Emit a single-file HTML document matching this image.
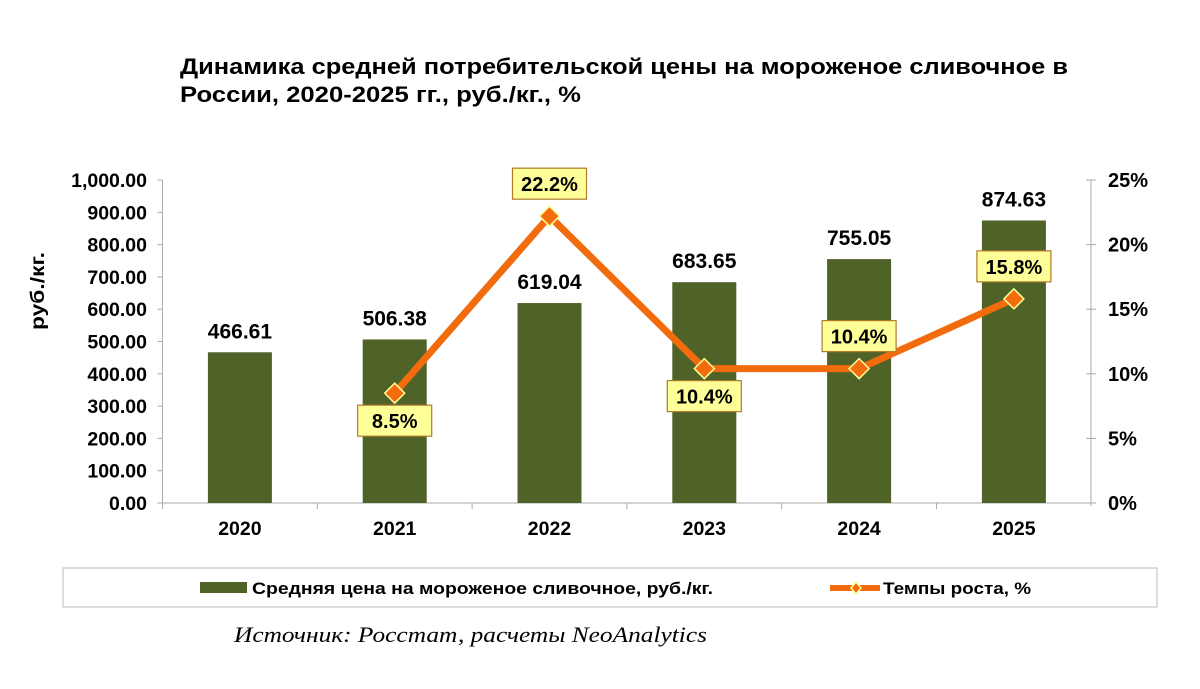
<!DOCTYPE html>
<html><head><meta charset="utf-8"><style>
body{margin:0;background:#fff;font-family:"Liberation Sans",Arial,sans-serif;}
</style></head><body>
<svg width="1200" height="684" viewBox="0 0 1200 684" xmlns="http://www.w3.org/2000/svg">
<text x="180" y="74" font-size="22" font-weight="bold" textLength="888" lengthAdjust="spacingAndGlyphs">Динамика средней потребительской цены на мороженое сливочное в</text>
<text x="180" y="102" font-size="22" font-weight="bold" textLength="401" lengthAdjust="spacingAndGlyphs">России, 2020-2025 гг., руб./кг., %</text>
<g id="axes"></g>
<g id="bars"></g>
<g id="line"></g>
<text transform="translate(44,291) rotate(-90)" text-anchor="middle" font-size="19" font-weight="bold" textLength="78" lengthAdjust="spacingAndGlyphs">руб./кг.</text>
<rect x="63" y="568" width="1094" height="39" fill="#fff" stroke="#bbb"/>
<rect x="200" y="582" width="47" height="11" fill="#4f6228"/>
<text x="252" y="594" font-size="17" font-weight="bold" textLength="461" lengthAdjust="spacingAndGlyphs">Средняя цена на мороженое сливочное, руб./кг.</text>
<line x1="830" y1="588" x2="880" y2="588" stroke="#f26c0d" stroke-width="6"/>
<path d="M856 582 L861 588 L856 594 L851 588Z" fill="#f26c0d" stroke="#ffff99" stroke-width="1.5"/>
<text x="883" y="594" font-size="17" font-weight="bold" textLength="148" lengthAdjust="spacingAndGlyphs">Темпы роста, %</text>
<text x="234" y="642" font-size="22" font-style="italic" font-family="Liberation Serif,serif" textLength="473" lengthAdjust="spacingAndGlyphs">Источник: Росстат, расчеты NeoAnalytics</text>
</svg>
<script>
const categories=["2020","2021","2022","2023","2024","2025"];
const prices=[466.61,506.38,619.04,683.65,755.05,874.63];
const priceLabels=["466.61","506.38","619.04","683.65","755.05","874.63"];
const growth=[null,8.5,22.2,10.4,10.4,15.8];
const growthLabels=["","8.5%","22.2%","10.4%","10.4%","15.8%"];
const leftTicks=["0.00","100.00","200.00","300.00","400.00","500.00","600.00","700.00","800.00","900.00","1,000.00"];
const rightTicks=["0%","5%","10%","15%","20%","25%"];
const labelBelow=[false,true,false,true,false,false];
const NS="http://www.w3.org/2000/svg";
const X0=162.5,BW=154.8,Y0=503,Y1=180,XR=1091;
const yL=v=>Y0-(Y0-Y1)*v/1000, yR=v=>Y0-(Y0-Y1)*v/25, xc=i=>X0+BW*(i+0.5);
function mk(t,a,p){const e=document.createElementNS(NS,t);for(const k in a)e.setAttribute(k,a[k]);p.appendChild(e);return e;}
const ax=document.getElementById('axes'),bg=document.getElementById('bars'),lg=document.getElementById('line');
let e=mk('line',{x1:X0,y1:Y1,x2:X0,y2:Y0,stroke:'#aaa'},ax);

e=mk('line',{x1:XR,y1:Y1,x2:XR,y2:Y0+3,stroke:'#aaa'},ax);

e=mk('line',{x1:X0,y1:Y0,x2:XR+5,y2:Y0,stroke:'#aaa'},ax);

leftTicks.forEach((t,i)=>{const y=yL(i*100);mk('line',{x1:X0-5,y1:y,x2:X0,y2:y,stroke:'#aaa'},ax);
 const tx=mk('text',{x:147,y:y+7,'text-anchor':'end','font-size':19.5,'font-weight':'bold'},ax);tx.textContent=t;
 });
rightTicks.forEach((t,i)=>{const y=yR(i*5);mk('line',{x1:XR-5,y1:y,x2:XR+5,y2:y,stroke:'#aaa'},ax);
 const tx=mk('text',{x:1108,y:y+7,'font-size':20,'font-weight':'bold'},ax);tx.textContent=t;
 });
categories.forEach((c,i)=>{mk('line',{x1:X0+BW*i,y1:Y0,x2:X0+BW*i,y2:Y0+6,stroke:'#aaa'},ax);
 const tx=mk('text',{x:xc(i),y:Y0+32,'text-anchor':'middle','font-size':19.5,'font-weight':'bold'},ax);tx.textContent=c;
 
 const r=mk('rect',{x:xc(i)-32,y:yL(prices[i]),width:64,height:Y0-yL(prices[i]),fill:'#4f6228'},bg);
 
 const l=mk('text',{x:xc(i),y:yL(prices[i])-14,'text-anchor':'middle','font-size':21,'font-weight':'bold'},bg);l.textContent=priceLabels[i];
 });
const pts=[];growth.forEach((g,i)=>{if(g!==null)pts.push([xc(i),yR(g),i]);});
const pl=mk('polyline',{points:pts.map(p=>p[0]+','+p[1]).join(' '),fill:'none',stroke:'#f26c0d','stroke-width':7,'stroke-linejoin':'round'},lg);

pts.forEach(([x,y,i])=>{const m=mk('path',{d:`M${x} ${y-10}L${x+10} ${y}L${x} ${y+10}L${x-10} ${y}Z`,fill:'#f26c0d',stroke:'#ffff99','stroke-width':1.5},lg);
 
 const by=labelBelow[i]?y+12:y-48;
 const b=mk('rect',{x:x-37,y:by,width:74,height:31,fill:'#ffff99',stroke:'#b07a2a','stroke-width':1.2},lg);
 
 const t=mk('text',{x:x,y:by+23,'text-anchor':'middle','font-size':20,'font-weight':'bold'},lg);t.textContent=growthLabels[i];
 });
</script>
</body></html>
